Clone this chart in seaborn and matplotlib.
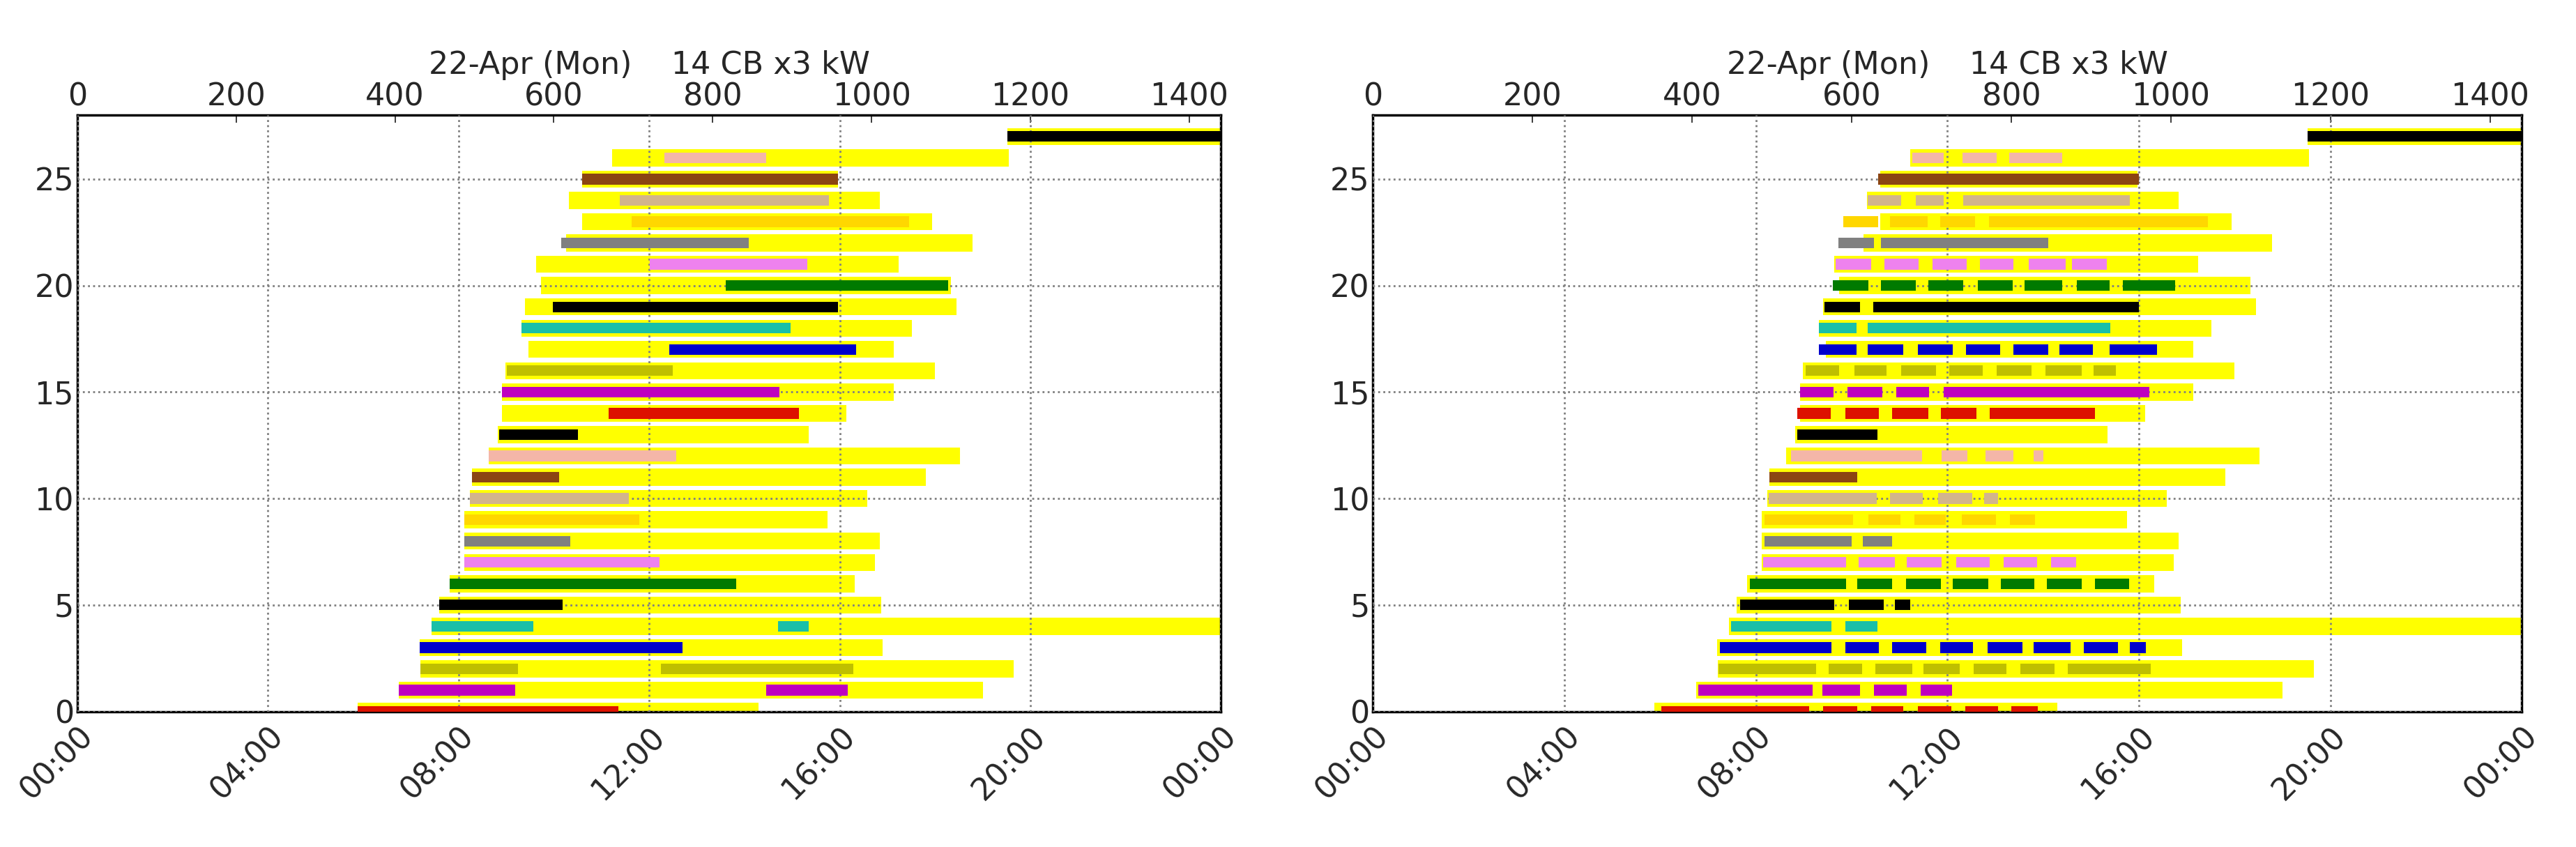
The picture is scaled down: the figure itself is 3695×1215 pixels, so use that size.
import matplotlib
matplotlib.use("Agg")
import matplotlib.pyplot as plt
import seaborn as sns

sns.set_theme(style="white")
plt.rcParams['font.family'] = ['DejaVu Sans']

title = "22-Apr (Mon)    14 CB x3 kW"
rows = list(range(28))
row_colors = ["#dd1100", "#bf00bf", "#bfbf00", "#0000cc", "#1abfa8", "black", "#007a00",
              "#ee82ee", "gray", "gold", "tan", "#8b4513", "#f4b6a8", "black",
              "#dd1100", "#bf00bf", "#bfbf00", "#0000cc", "#1abfa8", "black", "#007a00",
              "#ee82ee", "gray", "gold", "tan", "#8b4513", "#f4b6a8", "black"]

avail_start = [353, 405, 432, 431, 446, 456, 469, 487, 487, 487, 494, 497, 518, 529,
               535, 535, 539, 568, 559, 564, 584, 578, 615, 636, 619, 636, 673, 1171]
avail_end = [858, 1140, 1179, 1014, 1440, 1012, 979, 1004, 1010, 945, 995, 1068, 1111, 921,
             968, 1028, 1080, 1028, 1051, 1107, 1100, 1034, 1127, 1076, 1010, 958, 1173, 1440]

left_sessions = [
    [(353, 681)], [(405, 551), (867, 970)], [(432, 555), (735, 977)], [(431, 762)],
    [(446, 574), (882, 921)], [(456, 611)], [(469, 830)], [(487, 733)], [(487, 621)],
    [(487, 708)], [(494, 694)], [(497, 607)], [(518, 754)], [(531, 630)], [(669, 909)],
    [(535, 884)], [(541, 750)], [(745, 981)], [(559, 898)], [(599, 958)], [(816, 1096)],
    [(721, 919)], [(609, 845)], [(698, 1047)], [(683, 946)], [(636, 958)], [(739, 867)],
    [(1171, 1440)],
]

right_sessions = [
    [(361, 547), (564, 607), (624, 665), (683, 725), (742, 783), (800, 833)],
    [(408, 551), (563, 610), (628, 669), (686, 726)],
    [(433, 555), (571, 613), (630, 676), (690, 735), (753, 794), (811, 854), (871, 975)],
    [(435, 575), (592, 634), (651, 693), (711, 752), (770, 814), (828, 874), (891, 934), (949, 969)],
    [(449, 575), (592, 632)],
    [(460, 578), (596, 640), (654, 673)],
    [(472, 593), (607, 651), (668, 712), (727, 771), (787, 829), (845, 888), (905, 948)],
    [(489, 593), (609, 654), (669, 713), (731, 773), (790, 832), (850, 881)],
    [(491, 600), (614, 651)],
    [(491, 602), (621, 661), (679, 718), (738, 781), (798, 830)],
    [(496, 631), (648, 689), (708, 751), (766, 783)],
    [(497, 607)],
    [(524, 688), (713, 745), (768, 803), (828, 840)],
    [(532, 632)],
    [(532, 574), (592, 634), (651, 696), (712, 756), (773, 905)],
    [(535, 577), (595, 638), (656, 697), (715, 973)],
    [(542, 584), (603, 644), (662, 706), (722, 764), (782, 825), (843, 888), (903, 931)],
    [(559, 606), (620, 665), (683, 727), (743, 786), (803, 846), (860, 902), (923, 983)],
    [(559, 606), (620, 924)],
    [(566, 610), (627, 960)],
    [(576, 621), (637, 680), (696, 740), (758, 802), (817, 864), (882, 923), (940, 1005)],
    [(580, 624), (641, 684), (701, 744), (761, 803), (822, 868), (876, 920)],
    [(583, 628), (637, 846)],
    [(589, 633), (648, 695), (711, 755), (772, 1046)],
    [(620, 662), (680, 715), (740, 949)],
    [(633, 960)],
    [(676, 715), (739, 782), (797, 864)],
    [(1171, 1440)],
]

bottom_ticks = [0, 240, 480, 720, 960, 1200, 1440]
bottom_labels = ["00:00", "04:00", "08:00", "12:00", "16:00", "20:00", "00:00"]
top_ticks = [0, 200, 400, 600, 800, 1000, 1200, 1400]
y_ticks = [0, 5, 10, 15, 20, 25]

fig = plt.figure(figsize=(36.95, 12.15), dpi=100)
positions = [[0.030, 0.160, 0.444, 0.704], [0.533, 0.160, 0.446, 0.704]]
FS = 32

for pos, sessions in zip(positions, [left_sessions, right_sessions]):
    ax = fig.add_axes(pos)
    for r in rows:
        ax.barh(r, avail_end[r] - avail_start[r], left=avail_start[r], height=0.8,
                color="yellow", edgecolor="none", zorder=2)
        for s, e in sessions[r]:
            ax.barh(r, e - s, left=s, height=0.5, color=row_colors[r],
                    edgecolor="none", zorder=3)
    ax.set_xlim(0, 1440)
    ax.set_ylim(0, 28)
    ax.set_xticks(bottom_ticks)
    ax.set_xticklabels(bottom_labels, rotation=45, fontsize=FS)
    ax.set_yticks(y_ticks)
    ax.tick_params(axis='y', labelsize=FS, direction='in', length=8)
    ax.tick_params(axis='x', direction='in', length=8, pad=10)
    ax.grid(True, linestyle=':', color='gray', linewidth=2, zorder=1)
    ax.set_axisbelow(False)
    for sp in ax.spines.values():
        sp.set_color('black')
        sp.set_linewidth(2.5)
    top = ax.secondary_xaxis('top')
    top.set_xticks(top_ticks)
    top.tick_params(labelsize=FS, direction='in', length=8)
    top.set_xlabel(title, fontsize=FS, labelpad=8)
    for lab in ax.get_xticklabels():
        lab.set_ha('right')
        lab.set_rotation_mode('anchor')

fig.savefig("out.png", dpi=100)
